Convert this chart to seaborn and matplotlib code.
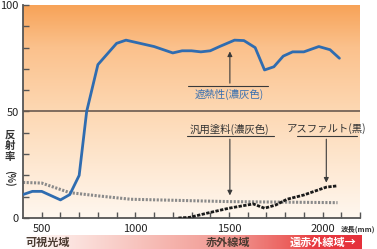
import numpy as np
import pandas as pd
import matplotlib
matplotlib.use("Agg")
import matplotlib.pyplot as plt
from matplotlib.colors import LinearSegmentedColormap
import seaborn as sns

# ---- data ----
heat_x = [400, 450, 500, 600, 650, 700, 740, 800, 900, 950, 1000, 1100, 1200, 1250,
          1300, 1350, 1400, 1450, 1530, 1580, 1640, 1690, 1740, 1790, 1840, 1900,
          1980, 2040, 2090]
heat_y = [11, 12.5, 12.5, 8.5, 11, 20, 50, 72, 82, 83.5, 82.5, 80.5, 77.5, 78.5,
          78.5, 78, 78.5, 80.5, 83.5, 83.3, 80, 69.5, 71, 76, 78, 78,
          80.5, 79, 75]
paint_x = [400, 500, 650, 800, 920, 975, 1500, 2080]
paint_y = [16.7, 16.4, 11.9, 10.4, 9.3, 8.8, 7.7, 7.2]
asph_x = [1230, 1290, 1380, 1500, 1630, 1690, 1750, 1810, 1900, 2020, 2080]
asph_y = [0, 0.3, 2.2, 4.6, 6.6, 4.6, 6.1, 8.8, 10.8, 14.5, 15.1]

xticks_major = [500, 1000, 1500, 2000]
yticks_major = [0, 50, 100]
band_labels = ["可視光域", "赤外線域", "遠赤外線域→"]

sns.set_style("ticks")
plt.rcParams['font.family'] = ['Noto Sans CJK JP', 'DejaVu Sans']

W, H = 377, 249
fig = plt.figure(figsize=(W / 100, H / 100), dpi=100)

def fx(px):
    return px / W

def fy(py):
    return 1 - py / H

ax = fig.add_axes([fx(23), fy(218), fx(360) - fx(23), fy(5) - fy(218)])
ax.set_xlim(400, 2200)
ax.set_ylim(0, 100)

# background gradient
bg = LinearSegmentedColormap.from_list("bg", [(0, "#fff7ef"), (0.5, "#fdd8b3"),
                                              (0.8, "#fbc18c"), (1.0, "#f7a257")])
grad = np.linspace(0, 1, 256).reshape(-1, 1)
ax.imshow(grad, cmap=bg, aspect="auto", extent=[400, 2200, 0, 100], origin="lower", zorder=0)

ax.axhline(50, color="#6a5a50", lw=1.2, zorder=1)

df_heat = pd.DataFrame({"x": heat_x, "y": heat_y})
df_paint = pd.DataFrame({"x": paint_x, "y": paint_y})
df_asph = pd.DataFrame({"x": asph_x, "y": asph_y})

sns.lineplot(data=df_paint, x="x", y="y", ax=ax, color="#8a8a8a", lw=2.2,
             linestyle=(0, (0.7, 0.5)), zorder=2, sort=False)
sns.lineplot(data=df_asph, x="x", y="y", ax=ax, color="#1a1a1a", lw=2.0,
             linestyle=(0, (1.2, 0.5)), zorder=3, sort=False)
sns.lineplot(data=df_heat, x="x", y="y", ax=ax, color="#2f6cb0", lw=2.0, zorder=4, sort=False)

# annotations
acol = "#3a3a3a"
ax.plot([1282, 1710], [62, 62], color=acol, lw=0.8, zorder=5)
ax.annotate("", xy=(1505, 79.5), xytext=(1505, 62),
            arrowprops=dict(arrowstyle="-|>", color=acol, lw=0.8, mutation_scale=7), zorder=5)
ax.text(1500, 58, "遮熱性(濃灰色)", color="#3a70b0", fontsize=7.5, ha="center", va="center")

ax.plot([1275, 1742], [38.3, 38.3], color=acol, lw=0.8, zorder=5)
ax.annotate("", xy=(1505, 9.3), xytext=(1505, 38.3),
            arrowprops=dict(arrowstyle="-|>", color=acol, lw=0.8, mutation_scale=7), zorder=5)
ax.text(1505, 41.8, "汎用塗料(濃灰色)", color="#333333", fontsize=7.5, ha="center", va="center")

ax.plot([1864, 2184], [38.3, 38.3], color=acol, lw=0.8, zorder=5)
ax.annotate("", xy=(2020, 15.3), xytext=(2020, 38.3),
            arrowprops=dict(arrowstyle="-|>", color=acol, lw=0.8, mutation_scale=7), zorder=5)
ax.text(2022, 41.8, "アスファルト(黒)", color="#333333", fontsize=7.5, ha="center", va="center")

# axes styling
for s in ["top", "right"]:
    ax.spines[s].set_visible(False)
for s in ["left", "bottom"]:
    ax.spines[s].set_color("#555555")
    ax.spines[s].set_linewidth(1.3)
ax.set_xticks(xticks_major)
ax.set_xticks([v for v in range(600, 2201, 100) if v not in xticks_major], minor=True)
ax.set_yticks(yticks_major)
ax.set_yticks([v for v in range(10, 100, 10) if v != 50], minor=True)
ax.tick_params(which="both", direction="in", length=4, width=1, color="#555555",
               labelsize=8, labelcolor="#222222")
ax.tick_params(axis="x", pad=4)
ax.tick_params(axis="y", pad=3)
ax.set_xlabel("")
ax.set_ylabel("")

fig.text(fx(341), fy(229), "波長(mm)", fontsize=5.3, ha="left", va="center",
         color="#333333", fontweight="bold")

# y label stacked
fig.text(fx(10), fy(146), "反\n射\n率", fontsize=7.5, ha="center", va="center",
         linespacing=1.1, color="#333333", fontweight="bold")
fig.text(fx(10), fy(178), "(%)", fontsize=7, ha="center", va="center", rotation=-90,
         color="#333333", fontweight="bold")

# bottom band
bax = fig.add_axes([fx(23), 0, fx(362) - fx(23), fy(235)])
band = LinearSegmentedColormap.from_list("band", [(0, "#ffffff"), (0.12, "#fce7e3"),
                                                  (0.45, "#f5b1aa"), (0.62, "#f09690"),
                                                  (0.8, "#eb5a58"), (0.86, "#e83a40"),
                                                  (1.0, "#e5303a")])
bax.imshow(np.linspace(0, 1, 256).reshape(1, -1), cmap=band, aspect="auto",
           extent=[0, 1, 0, 1])
bax.set_axis_off()
bax.text((48 - 23) / 339, 0.5, band_labels[0], fontsize=8, ha="center", va="center",
         color="#4a3a30", fontweight="bold")
bax.text((228 - 23) / 339, 0.5, band_labels[1], fontsize=8, ha="center", va="center",
         color="#4a3a30", fontweight="bold")
bax.text((323 - 23) / 339, 0.5, band_labels[2], fontsize=8, ha="center", va="center",
         color="white", fontweight="bold")

fig.savefig("out.png", dpi=100)
